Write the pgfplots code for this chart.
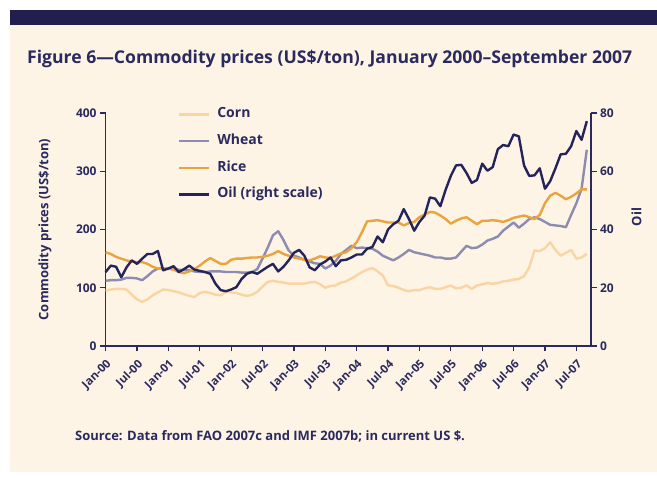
\documentclass[border=0pt]{standalone}
\usepackage{pgfplots}
\usepackage{pgfplotstable}
\pgfplotsset{compat=1.18}
\usepackage{fontspec}
\setmainfont{Open Sans}
\definecolor{navy}{HTML}{2B2A5E}
\definecolor{band}{HTML}{231E50}
\definecolor{cream}{HTML}{FDF4E6}
\definecolor{corn}{HTML}{F8D5A3}
\definecolor{wheat}{HTML}{8C8CB0}
\definecolor{rice}{HTML}{E9A33F}
\definecolor{oil}{HTML}{25245A}

\pgfplotstableread{
m corn wheat rice oil
0 95 112 161 25.4
1 97 113 158 27.6
2 98 113 153 27.2
3 98 114 150 23.6
4 97 117 147 27.0
5 88 117 145 29.4
6 80 116 144 28.2
7 76 113 144 30.0
8 80 120 141 31.6
9 87 128 136 31.6
10 92 133 133 32.6
11 97 133 133 26.0
12 96 133 133 26.6
13 94 132 131 27.4
14 92 131 127 25.4
15 89 130 125 26.4
16 86 130 128 27.6
17 84 128 132 26.2
18 91 127 138 25.8
19 93 127 145 25.4
20 91 128 151 24.8
21 88 128 146 21.4
22 87 128 141 19.2
23 93 127 141 18.8
24 92 127 148 19.4
25 91 127 150 20.2
26 88 126 150 23.0
27 86 126 151 24.8
28 88 127 152 25.4
29 93 132 152 24.8
30 102 150 153 26.0
31 110 169 155 27.2
32 112 190 158 28.2
33 110 197 163 25.6
34 109 182 158 27.2
35 107 164 155 29.4
36 107 155 152 32.0
37 107 152 150 33.0
38 107 148 148 31.0
39 109 145 147 27.0
40 110 142 150 26.0
41 106 141 154 28.0
42 100 133 152 29.0
43 103 138 151 30.4
44 104 146 155 27.4
45 109 158 159 29.4
46 111 165 161 29.6
47 116 172 168 30.4
48 121 168 178 31.4
49 127 169 195 31.4
50 131 168 214 33.4
51 134 167 215 34.0
52 128 162 216 37.6
53 121 155 214 35.6
54 104 151 212 40.0
55 103 147 212 41.8
56 100 152 212 43.0
57 96 158 207 47.0
58 94 165 211 43.6
59 96 161 213 39.6
60 96 159 221 42.6
61 99 157 226 44.8
62 101 155 230 51.0
63 98 152 229 50.6
64 98 152 224 48.0
65 101 150 218 53.6
66 104 150 210 58.4
67 99 152 215 62.0
68 100 162 219 62.2
69 104 172 221 59.4
70 98 168 215 56.0
71 104 169 209 57.0
72 106 174 215 62.6
73 108 181 215 60.2
74 107 184 216 61.4
75 108 188 215 67.6
76 111 198 213 69.0
77 112 205 216 68.6
78 114 212 220 72.6
79 115 203 222 72.0
80 120 210 224 62.0
81 135 218 221 58.4
82 164 221 218 58.6
83 163 218 225 61.0
84 168 213 245 54.0
85 178 208 258 56.6
86 165 207 263 61.0
87 155 206 258 65.8
88 160 204 252 66.0
89 165 225 256 68.6
90 150 245 262 73.8
91 152 270 269 70.8
92 158 337 269 77.2
}\data

\begin{document}
\begin{tikzpicture}
\fill[white] (0pt,0pt) rectangle (657pt,-478pt);
\fill[cream] (10pt,-25pt) rectangle (657pt,-472pt);
\fill[band] (10pt,-10pt) rectangle (657pt,-25pt);
\node[anchor=base west, text=navy, font=\bfseries\fontsize{17.6}{20}\selectfont, inner sep=0pt] at (27pt,-64pt) {Figure 6—Commodity prices (US\$/ton), January 2000–September 2007};
\node[anchor=base west, text=navy, font=\bfseries\fontsize{13}{15}\selectfont, inner sep=0pt] at (75pt,-441pt) {Source: Data from FAO 2007c and IMF 2007b; in current US \$.};

\pgfplotsset{
  every axis/.append style={
    scale only axis, width=485.4pt, height=233pt,
    at={(105.6pt,-346pt)}, anchor=south west,
    xmin=0, xmax=92.8,
    axis line style={navy, line width=1.2pt},
    tick style={navy, line width=1.2pt},
    tick align=outside, major tick length=5.5pt,
    ticklabel style={text=navy, font=\bfseries\fontsize{12}{14}\selectfont},
    /pgf/number format/assume math mode=true,
    label style={text=navy, font=\bfseries\fontsize{13}{15}\selectfont},
    clip=false,
  }
}

\begin{axis}[
  ymin=0, ymax=400, ytick={0,100,200,300,400},
  axis x line*=bottom, axis y line*=left,
  xtick={0,6,...,90},
  xticklabels={Jan-00,Jul-00,Jan-01,Jul-01,Jan-02,Jul-02,Jan-03,Jul-03,Jan-04,Jul-04,Jan-05,Jul-05,Jan-06,Jul-06,Jan-07,Jul-07},
  xticklabel style={rotate=45, anchor=north east, inner sep=0pt, font=\bfseries\fontsize{11.5}{13}\selectfont},
  xticklabel shift=7pt,
  ylabel={Commodity prices (US\$/ton)},
  ylabel style={at={(axis description cs:-0.125,0.5)}, anchor=center},
  legend style={at={(axis description cs:0.149,1.023)}, anchor=north west, draw=none, fill=none,
    inner sep=0pt, outer sep=0pt,
    font=\bfseries\fontsize{14}{16}\selectfont, text=navy, row sep=13.2pt,
    nodes={inner sep=0pt, text height=10pt, text depth=3.5pt},
    /tikz/every odd column/.append style={column sep=7pt}},
  legend cell align=left,
  legend image code/.code={\draw[#1] (0pt,0pt) -- (30pt,0pt);},
]
\addplot[corn, line width=2.4pt, line join=round] table[x=m,y=corn]{\data};
\addlegendentry{Corn}
\addplot[wheat, line width=2.4pt, line join=round] table[x=m,y=wheat]{\data};
\addlegendentry{Wheat}
\addplot[rice, line width=2.4pt, line join=round] table[x=m,y=rice]{\data};
\addlegendentry{Rice}
\addlegendimage{oil, line width=2.4pt}
\addlegendentry{Oil (right scale)}
\end{axis}

\begin{axis}[
  ymin=0, ymax=80, ytick={0,20,40,60,80},
  axis x line=none, axis y line*=right,
  ylabel={Oil},
  ylabel style={at={(axis description cs:1.094,0.554)}, anchor=center},
]
\addplot[oil, line width=2.4pt, line join=round] table[x=m,y=oil]{\data};
\end{axis}
\end{tikzpicture}
\end{document}
